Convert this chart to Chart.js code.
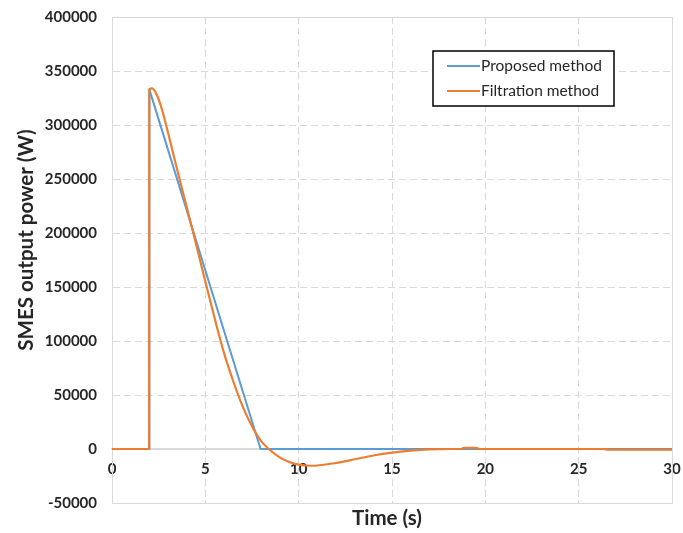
<!DOCTYPE html>
<html>
<head>
<meta charset="utf-8">
<script src="https://cdn.jsdelivr.net/npm/chart.js@4.4.1/dist/chart.umd.min.js"></script>
<style>
  html, body { margin: 0; padding: 0; background: #fff; }
  #wrap { width: 683px; height: 533px; }
</style>
</head>
<body>
<div id="wrap"><canvas id="myChart" width="683" height="533"></canvas></div>
<script>
// time (s) and SMES power (W)
const proposedTime = [0, 2, 2, 7.96, 30];
const proposedPower = [0, 0, 333000, 0, 0];

const filtrationTime = [0, 1.99, 2, 2.15, 2.4, 2.7, 3, 3.5, 4, 4.5, 5, 5.5, 6, 6.5, 7, 7.5, 8, 8.4, 9, 9.5, 10, 10.6, 11, 12, 13, 14, 15, 16, 17, 18, 18.7, 18.85, 19.5, 19.7, 26.3, 26.5, 30];
const filtrationPower = [0, 0, 333000, 334000, 328000, 313000, 293000, 258000, 224000, 190000, 155000, 121000, 89000, 62500, 39500, 21000, 7000, 0, -8000, -12000, -14500, -15500, -15300, -13000, -9500, -6000, -3300, -1500, -400, 0, 0, 1000, 1000, 0, 0, -500, -500];

const xTicks = [0, 5, 10, 15, 20, 25, 30];
const yTicks = [-50000, 0, 50000, 100000, 150000, 200000, 250000, 300000, 350000, 400000];

const seriesNames = ['Proposed method', 'Filtration method'];
const seriesColors = ['#5b9bd5', '#ed7d31'];

const toPoints = (xs, ys) => xs.map((x, i) => ({ x: x, y: ys[i] }));

const textColor = '#262626';
const gridColor = '#d9d9d9';

// frame around the plot area + the two axis titles
const framePlugin = {
  id: 'frame',
  beforeDatasetsDraw(chart) {
    const { ctx, chartArea: a } = chart;
    ctx.save();
    ctx.strokeStyle = gridColor;
    ctx.lineWidth = 1;
    ctx.setLineDash([]);
    ctx.strokeRect(a.left + 0.5, a.top + 0.5, a.right - a.left, a.bottom - a.top);
    ctx.restore();
  },
  afterDraw(chart) {
    const { ctx } = chart;
    ctx.save();
    ctx.fillStyle = textColor;
    ctx.font = 'bold 20.5px Lato';
    ctx.textAlign = 'center';
    ctx.textBaseline = 'middle';
    ctx.fillText('Time (s)', 387, 518);
    ctx.translate(26, 240);
    ctx.rotate(-Math.PI / 2);
    ctx.fillText('SMES output power (W)', 0, 0);
    ctx.restore();
  }
};

// boxed legend inside the plot, like the original
const boxLegend = {
  id: 'boxLegend',
  afterDraw(chart) {
    const { ctx } = chart;
    const x = 433, y = 51, w = 181, h = 55;
    ctx.save();
    ctx.fillStyle = '#fff';
    ctx.fillRect(x, y, w, h);
    ctx.strokeStyle = '#000';
    ctx.lineWidth = 1.5;
    ctx.strokeRect(x, y, w, h);
    ctx.font = '15.5px Lato';
    ctx.textBaseline = 'middle';
    chart.data.datasets.forEach((ds, i) => {
      const ly = y + 15 + i * 25;
      ctx.strokeStyle = ds.borderColor;
      ctx.lineWidth = 2;
      ctx.beginPath();
      ctx.moveTo(x + 14, ly);
      ctx.lineTo(x + 47, ly);
      ctx.stroke();
      ctx.fillStyle = textColor;
      ctx.fillText(ds.label, x + 48, ly);
    });
    ctx.restore();
  }
};

const data = {
  datasets: [
    {
      label: seriesNames[0],
      data: toPoints(proposedTime, proposedPower),
      borderColor: seriesColors[0],
      backgroundColor: seriesColors[0],
      borderWidth: 2,
      borderJoinStyle: 'round',
      pointRadius: 0,
      tension: 0,
      order: 1,
    },
    {
      label: seriesNames[1],
      data: toPoints(filtrationTime, filtrationPower),
      borderColor: seriesColors[1],
      backgroundColor: seriesColors[1],
      borderWidth: 2.2,
      borderJoinStyle: 'round',
      pointRadius: 0,
      cubicInterpolationMode: 'monotone',
      order: 0,
    },
  ]
};

const config = {
  type: 'line',
  data: data,
  plugins: [framePlugin, boxLegend],
  options: {
    responsive: false,
    animation: false,
    events: [],
    layout: { padding: { top: 17, right: 11, bottom: 30, left: 0 } },
    plugins: {
      legend: { display: false },
      tooltip: { enabled: false },
      title: { display: false },
    },
    scales: {
      x: {
        type: 'linear',
        position: { y: 0 },
        min: 0,
        max: 30,
        afterBuildTicks: (scale) => { scale.ticks = xTicks.map(v => ({ value: v })); },
        afterFit: (scale) => { scale.paddingLeft = 0; scale.paddingRight = 0; },
        ticks: {
          color: textColor,
          font: { family: 'Lato', size: 15, weight: 'bold' },
          padding: 11,
          maxRotation: 0,
        },
        grid: { color: gridColor, lineWidth: 1, drawTicks: false },
        border: { display: true, color: gridColor, width: 2, dash: [7, 4] },
      },
      y: {
        type: 'linear',
        min: -50000,
        max: 400000,
        afterBuildTicks: (scale) => { scale.ticks = yTicks.map(v => ({ value: v })); },
        afterFit: (scale) => { scale.width = 112; scale.paddingTop = 0; scale.paddingBottom = 0; },
        ticks: {
          color: textColor,
          font: { family: 'Lato', size: 15, weight: 'bold' },
          padding: 15,
          callback: (v) => String(v),
        },
        grid: { color: gridColor, lineWidth: 1, drawTicks: false },
        border: { display: true, color: gridColor, width: 1, dash: [7, 4] },
      }
    }
  }
};

new Chart(document.getElementById('myChart').getContext('2d'), config);
</script>
</body>
</html>
